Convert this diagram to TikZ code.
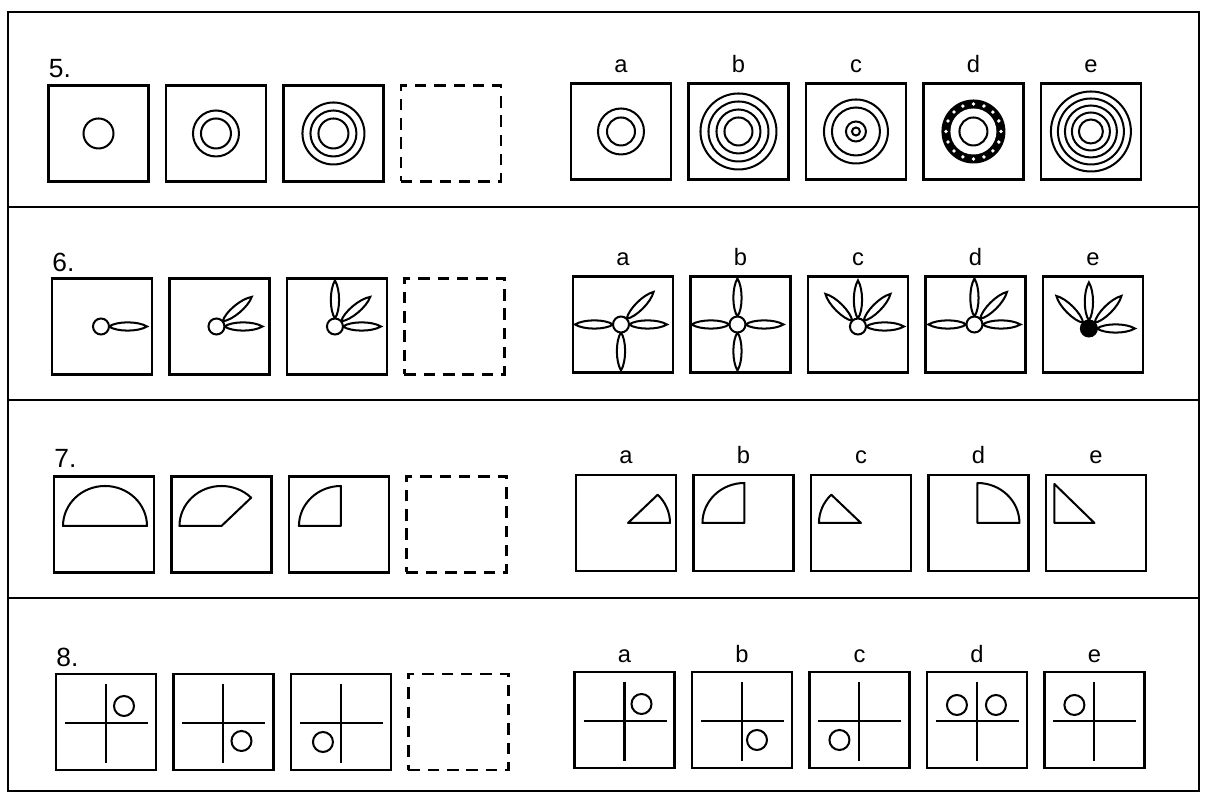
\documentclass[tikz,border=0pt]{standalone}
\usepackage{fontspec}
\setmainfont{Liberation Sans}
\usepackage{tikz}
\usetikzlibrary{positioning,calc}
\tikzset{
  box/.style={rectangle, draw=black, line width=1.6pt, minimum width=2cm, minimum height=1.92cm, inner sep=0pt, outer sep=0pt},
  dashbox/.style={box, dash pattern=on 6.5pt off 4.5pt},
  fig/.style={draw=black, line width=1.15pt},
  lbl/.style={font=\fontsize{13.5}{15}\selectfont, inner sep=0pt},
  num/.style={font=\fontsize{15}{17}\selectfont, inner sep=0pt},
  frame/.style={draw=black, line width=1.5pt},
  sepline/.style={draw=black, line width=1.2pt}
}
% concentric circles in a box
\newcommand{\rings}[2]{\foreach \r in {#2}{\draw[fig] (#1.center) circle[radius=\r];}}
% hub with petals: box, angles, hub fill, offset
\newcommand{\flower}[4]{%
  \begin{scope}[shift={($(#1.center)+(#4)$)}]
    \foreach \a in {#2}{\draw[fig, rotate=\a] (8,0) .. controls (16,5.5) and (37,5.5) .. (46,0) .. controls (37,-5.5) and (16,-5.5) .. (8,0);}
    \draw[fig, fill=#3] (0,0) circle[radius=8];
  \end{scope}}
% sector: box, start angle, end angle, offset of its centre
\newcommand{\sector}[4]{\draw[fig, line join=round] ($(#1.center)+(#4)$) -- ++({42*cos(#2)},{40*sin(#2)}) arc[start angle=#2, end angle=#3, x radius=42, y radius=40] -- cycle;}
% cross with small circles
\newcommand{\crossdot}[2]{%
  \draw[fig] ($(#1.center)+(-41,-1)$) -- ++(83,0);
  \draw[fig] ($(#1.center)+(0,38)$) -- ++(0,-79);
  \foreach \dx/\dy in {#2}{\draw[fig] ($(#1.center)+(\dx,\dy)$) circle[radius=10];}}

\begin{document}
\begin{tikzpicture}[x=0.02cm, y=0.02cm, node distance=0.35cm]
\useasboundingbox (0,0) rectangle (1208,793);

\draw[frame] (8,2) rectangle (1199,781);
\draw[sepline] (8,586) -- (1199,586);
\draw[sepline] (8,393) -- (1199,393);
\draw[sepline] (8,195) -- (1199,195);

% row 5
\node[box] (b5-1) at (98.5,659.5) {};
\node[box, right=of b5-1] (b5-2) {};
\node[box, right=of b5-2] (b5-3) {};
\node[dashbox, right=of b5-3] (b5-4) {};
\node[num, above right=0.15cm and 0cm of b5-1.north west] (n5) {5.};
\node[box] (b5-a) at (621,661.5) {};
\node[box, right=of b5-a] (b5-b) {};
\node[box, right=of b5-b] (b5-c) {};
\node[box, right=of b5-c] (b5-d) {};
\node[box, right=of b5-d] (b5-e) {};
\foreach \k in {a,b,c,d,e}{\node[lbl, above=0.2cm of b5-\k] {\k};}
\rings{b5-1}{15}
\rings{b5-2}{15,23}
\rings{b5-3}{15,23,31}
\rings{b5-a}{14,23}
\rings{b5-b}{14,22,30,38}
\rings{b5-c}{4,10,24,32}
\fill (b5-d.center) circle[radius=32];
\fill[white] (b5-d.center) circle[radius=23];
\foreach \a in {0,22.5,...,337.5}{\fill[white] ($(b5-d.center)+(\a:27.5)$) circle[radius=1.9];}
\rings{b5-d}{14}
\rings{b5-e}{12,19,26,33,40}

% row 6
\node[box] (b6-1) at (102,466.5) {};
\node[box, right=of b6-1] (b6-2) {};
\node[box, right=of b6-2] (b6-3) {};
\node[dashbox, right=of b6-3] (b6-4) {};
\node[num, above right=0.13cm and 0cm of b6-1.north west] (n6) {6.};
\node[box] (b6-a) at (623,468.5) {};
\node[box, right=of b6-a] (b6-b) {};
\node[box, right=of b6-b] (b6-c) {};
\node[box, right=of b6-c] (b6-d) {};
\node[box, right=of b6-d] (b6-e) {};
\foreach \k in {a,b,c,d,e}{\node[lbl, above=0.2cm of b6-\k] {\k};}
\flower{b6-1}{0}{white}{-1,0}
\flower{b6-2}{0,40}{white}{-3,0}
\flower{b6-3}{0,40,90}{white}{-2,0}
\flower{b6-a}{0,45,180,270}{white}{-2,0}
\flower{b6-b}{0,90,180,270}{white}{-3,0}
\flower{b6-c}{0,45,90,135}{white}{0,-2}
\flower{b6-d}{0,45,90,180}{white}{-1,0}
\flower{b6-e}{0,45,90,135}{black}{-4,-4}

% row 7
\node[box] (b7-1) at (104,268.5) {};
\node[box, right=of b7-1] (b7-2) {};
\node[box, right=of b7-2] (b7-3) {};
\node[dashbox, right=of b7-3] (b7-4) {};
\node[num, above right=0.17cm and 0cm of b7-1.north west] (n7) {7.};
\node[box] (b7-a) at (626,270) {};
\node[box, right=of b7-a] (b7-b) {};
\node[box, right=of b7-b] (b7-c) {};
\node[box, right=of b7-c] (b7-d) {};
\node[box, right=of b7-d] (b7-e) {};
\foreach \k in {a,b,c,d,e}{\node[lbl, above=0.22cm of b7-\k] {\k};}
\sector{b7-1}{0}{180}{1,-1.5}
\sector{b7-2}{45}{180}{0,-1.5}
\sector{b7-3}{90}{180}{2,-1.5}
\sector{b7-a}{0}{45}{2,0}
\sector{b7-b}{90}{180}{1,0}
\sector{b7-c}{135}{180}{0,0}
\sector{b7-d}{0}{90}{-1,0}
\draw[fig, line join=round] ($(b7-e.center)+(-41.5,0)$) -- ++(0,39) -- ++(40,-39) -- cycle;

% row 8
\node[box] (b8-1) at (106,71) {};
\node[box, right=of b8-1] (b8-2) {};
\node[box, right=of b8-2] (b8-3) {};
\node[dashbox, right=of b8-3] (b8-4) {};
\node[num, above right=0.13cm and 0cm of b8-1.north west] (n8) {8.};
\node[box] (b8-a) at (624.5,73) {};
\node[box, right=of b8-a] (b8-b) {};
\node[box, right=of b8-b] (b8-c) {};
\node[box, right=of b8-c] (b8-d) {};
\node[box, right=of b8-d] (b8-e) {};
\foreach \k in {a,b,c,d,e}{\node[lbl, above=0.18cm of b8-\k] {\k};}
\crossdot{b8-1}{18/16}
\crossdot{b8-2}{18/-19}
\crossdot{b8-3}{-18/-20}
\crossdot{b8-a}{17/16}
\crossdot{b8-b}{15/-20}
\crossdot{b8-c}{-20/-20}
\crossdot{b8-d}{-20/15,19/15}
\crossdot{b8-e}{-20/15}

\end{tikzpicture}
\end{document}
